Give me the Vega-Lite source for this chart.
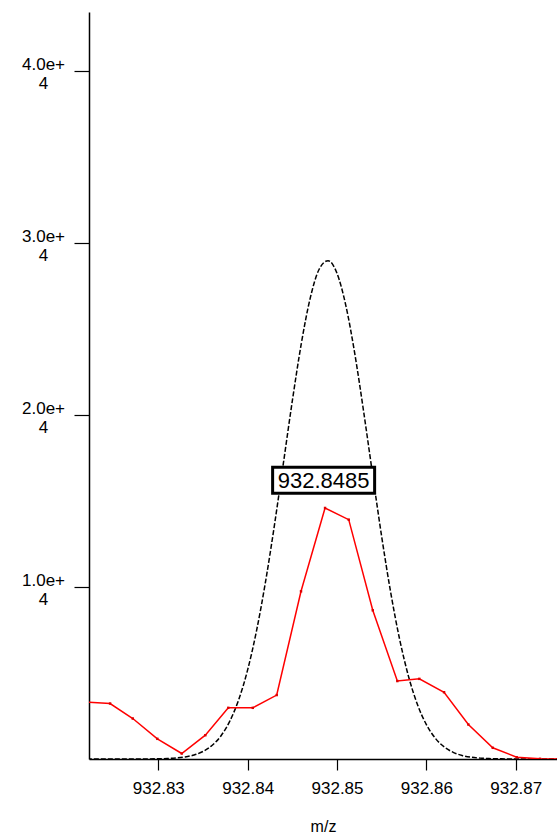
{
  "$schema": "https://vega.github.io/schema/vega-lite/v6.json",
  "width": 468,
  "height": 747,
  "autosize": {"type": "none"},
  "padding": {"left": 89, "top": 12, "right": 0, "bottom": 79},
  "background": "white",
  "config": {"view": {"stroke": null}, "font": "Liberation Sans"},
  "datasets": {
    "fit": [
      {"mz": 932.822, "intensity": 0}, {"mz": 932.823, "intensity": 0}, {"mz": 932.824, "intensity": 0.04},
      {"mz": 932.825, "intensity": 0.12}, {"mz": 932.826, "intensity": 0.33}, {"mz": 932.827, "intensity": 0.87},
      {"mz": 932.828, "intensity": 2.2}, {"mz": 932.829, "intensity": 5.4}, {"mz": 932.83, "intensity": 12.5},
      {"mz": 932.831, "intensity": 27.7}, {"mz": 932.832, "intensity": 58.9}, {"mz": 932.833, "intensity": 120},
      {"mz": 932.834, "intensity": 234}, {"mz": 932.835, "intensity": 438}, {"mz": 932.836, "intensity": 784},
      {"mz": 932.837, "intensity": 1342}, {"mz": 932.838, "intensity": 2202}, {"mz": 932.839, "intensity": 3457},
      {"mz": 932.84, "intensity": 5197}, {"mz": 932.841, "intensity": 7488}, {"mz": 932.842, "intensity": 10321},
      {"mz": 932.843, "intensity": 13624}, {"mz": 932.844, "intensity": 17223}, {"mz": 932.845, "intensity": 20848},
      {"mz": 932.846, "intensity": 24163}, {"mz": 932.847, "intensity": 26816}, {"mz": 932.848, "intensity": 28495},
      {"mz": 932.849, "intensity": 28994}, {"mz": 932.85, "intensity": 28249}, {"mz": 932.851, "intensity": 26352},
      {"mz": 932.852, "intensity": 23540}, {"mz": 932.853, "intensity": 20134}, {"mz": 932.854, "intensity": 16490},
      {"mz": 932.855, "intensity": 12931}, {"mz": 932.856, "intensity": 9710}, {"mz": 932.857, "intensity": 6983},
      {"mz": 932.858, "intensity": 4808}, {"mz": 932.859, "intensity": 3170}, {"mz": 932.86, "intensity": 2001},
      {"mz": 932.861, "intensity": 1208}, {"mz": 932.862, "intensity": 700}, {"mz": 932.863, "intensity": 388},
      {"mz": 932.864, "intensity": 206}, {"mz": 932.865, "intensity": 105}, {"mz": 932.866, "intensity": 51},
      {"mz": 932.867, "intensity": 24}, {"mz": 932.868, "intensity": 10.6}, {"mz": 932.869, "intensity": 4.5},
      {"mz": 932.87, "intensity": 1.8}, {"mz": 932.871, "intensity": 0.7}, {"mz": 932.872, "intensity": 0.3},
      {"mz": 932.873, "intensity": 0.1}, {"mz": 932.874, "intensity": 0}, {"mz": 932.875, "intensity": 0}
    ],
    "obs": [
      {"mz": 932.82194, "intensity": 3314}, {"mz": 932.8246, "intensity": 3227}, {"mz": 932.82714, "intensity": 2355},
      {"mz": 932.82989, "intensity": 1174}, {"mz": 932.83262, "intensity": 320}, {"mz": 932.83526, "intensity": 1384},
      {"mz": 932.83783, "intensity": 2977}, {"mz": 932.84057, "intensity": 2977}, {"mz": 932.84325, "intensity": 3721},
      {"mz": 932.84597, "intensity": 9756}, {"mz": 932.84866, "intensity": 14605}, {"mz": 932.85131, "intensity": 13924},
      {"mz": 932.854, "intensity": 8651}, {"mz": 932.85675, "intensity": 4535}, {"mz": 932.85921, "intensity": 4663},
      {"mz": 932.86198, "intensity": 3884}, {"mz": 932.8647, "intensity": 2006}, {"mz": 932.86743, "intensity": 651},
      {"mz": 932.87011, "intensity": 105}, {"mz": 932.87272, "intensity": 12}, {"mz": 932.87541, "intensity": 0}
    ],
    "label": [{"mz": 932.8485, "intensity": 16220, "text": "932.8485"}]
  },
  "encoding": {
    "x": {
      "field": "mz", "type": "quantitative",
      "scale": {"domain": [932.82224, 932.87462], "nice": false, "zero": false},
      "axis": {
        "values": [932.83, 932.84, 932.85, 932.86, 932.87], "format": ".2f", "grid": false,
        "domainColor": "black", "domainWidth": 1.5, "tickColor": "black", "tickWidth": 1.2, "tickSize": 11,
        "labelFontSize": 17, "labelColor": "black", "labelPadding": 10, "labelFont": "Liberation Sans",
        "title": "m/z", "titleFontSize": 16, "titleFontWeight": "normal", "titleColor": "black", "titlePadding": 22,
        "titleFont": "Liberation Sans"
      }
    },
    "y": {
      "field": "intensity", "type": "quantitative",
      "scale": {"domain": [0, 43460], "nice": false},
      "axis": {
        "values": [10000, 20000, 30000, 40000], "grid": false, "title": null,
        "domainColor": "black", "domainWidth": 1.5, "tickColor": "black", "tickWidth": 1.2, "tickSize": 15,
        "labelExpr": "[slice(format(datum.value, '.1e'), 0, -1), slice(format(datum.value, '.1e'), -1)]",
        "labelAlign": "center", "labelBaseline": "middle", "labelPadding": 31, "labelLineHeight": 19,
        "labelOffset": -7,
        "labelFontSize": 17, "labelColor": "black", "labelFont": "Liberation Sans"
      }
    }
  },
  "layer": [
    {
      "data": {"name": "fit"},
      "mark": {"type": "line", "color": "black", "strokeWidth": 1.5, "strokeDash": [5, 2], "interpolate": "monotone", "clip": true}
    },
    {
      "data": {"name": "obs"},
      "mark": {"type": "line", "color": "#ff0000", "strokeWidth": 1.5, "clip": true}
    },
    {
      "data": {"name": "obs"},
      "mark": {"type": "point", "shape": "square", "filled": true, "size": 6, "color": "#dd0000", "opacity": 1, "clip": true}
    },
    {
      "data": {"name": "label"},
      "mark": {"type": "point", "shape": "M-1,-0.255H1V0.255H-1Z", "size": 10404, "filled": true, "fill": "white", "stroke": "black", "strokeWidth": 3, "opacity": 1}
    },
    {
      "data": {"name": "label"},
      "mark": {"type": "text", "fontSize": 22, "font": "Liberation Sans", "color": "black", "baseline": "middle", "align": "center", "dy": 1},
      "encoding": {"text": {"field": "text"}}
    }
  ]
}
